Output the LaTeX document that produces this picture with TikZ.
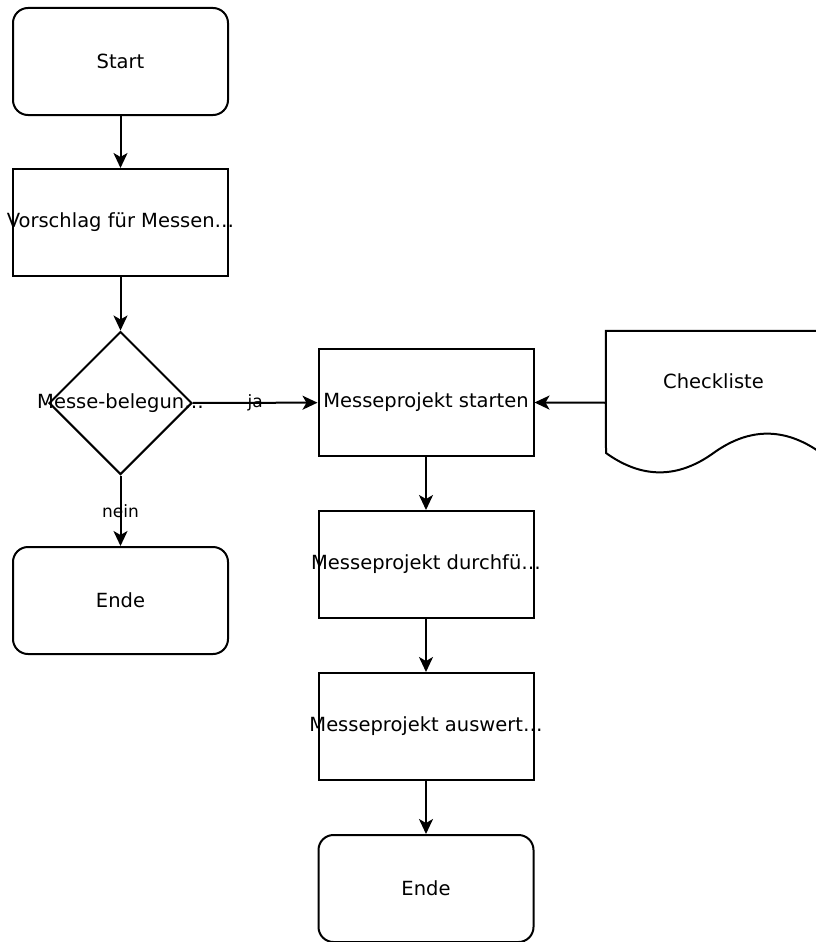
\documentclass[tikz,border=0pt]{standalone}
\usepackage{fontspec}
\setmainfont{DejaVu Sans}
\usetikzlibrary{shapes.geometric,arrows.meta}
\begin{document}
\begin{tikzpicture}[x=1pt,y=-1pt,
  every node/.style={font=\fontsize{19.5}{22}\selectfont},
  box/.style={draw,line width=2pt,minimum width=215pt,minimum height=107pt,inner sep=0pt},
  term/.style={box,rounded corners=15pt},
  dec/.style={draw,line width=2pt,diamond,minimum width=143pt,minimum height=143pt,inner sep=0pt,aspect=1},
  elab/.style={font=\fontsize{17}{20}\selectfont,inner sep=0pt},
  arr/.style={line width=2pt,-{Stealth[length=15pt,width=14pt,inset=4pt]}}]
\useasboundingbox (0,0) rectangle (816,942);
\clip (0,0) rectangle (816,942);
\node[term] (start) at (120.5,61.5) {Start};
\node[box] (vor) at (120.5,222.5) {\makebox[0pt]{Vorschlag für Messen…}};
\node[dec] (dia) at (120.5,403) {\makebox[0pt]{Messe-belegun…}};
\node[term] (ende1) at (120.5,600.5) {Ende};
\node[box] (ms) at (426,402.5) {Messeprojekt starten};
\node[box] (md) at (426,564.5) {\makebox[0pt]{Messeprojekt durchfü…}};
\node[box] (ma) at (426,726.5) {\makebox[0pt]{Messeprojekt auswert…}};
\node[term] (ende2) at (426,888.5) {Ende};
% document shape
\node[minimum width=215pt,minimum height=143.5pt,inner sep=0pt] (chk) at (713.5,402.75) {};
\draw[line width=2pt] (chk.north west) -- (chk.north east) -- (821,453)
  .. controls (785.17,427.2) and (749.33,427.2) .. (713.5,453)
  .. controls (677.67,478.8) and (641.83,478.8) .. (606,453) -- cycle;
\node (chkt) at (713.5,381) {Checkliste};
% connectors
\draw[arr] (start) -- (vor);
\draw[arr] (vor) -- (dia);
\draw[arr] (dia) -- node[elab] {nein} (ende1);
\draw[arr] (dia) -- node[elab,pos=0.5] {ja} (ms);
\draw[arr] (chk.west) -- (ms.east);
\draw[arr] (ms) -- (md);
\draw[arr] (md) -- (ma);
\draw[arr] (ma) -- (ende2);
\end{tikzpicture}
\end{document}
